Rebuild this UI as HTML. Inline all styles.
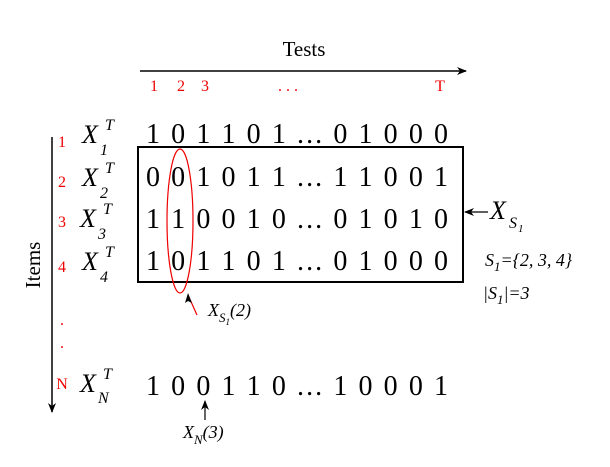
<!DOCTYPE html>
<html><head><meta charset="utf-8"><style>
body{margin:0;background:#fff}
svg{display:block;font-family:"Liberation Serif",serif}
.d{font-size:28px}
.r{fill:#e00;font-size:16px}
.x{font-style:italic}
.s{font-style:italic}
</style></head><body>
<svg width="610" height="467" viewBox="0 0 610 467">
<defs><marker id="ah" markerWidth="10" markerHeight="8" refX="9" refY="4" orient="auto" markerUnits="userSpaceOnUse"><path d="M0,0 L10,4 L0,8 L3,4z" fill="#000"/></marker></defs>
<text x="304" y="56" style="font-size:21px" text-anchor="middle">Tests</text>
<line x1="140" y1="71" x2="466" y2="71" stroke="#000" stroke-width="1.5" marker-end="url(#ah)"/>
<g class="r" text-anchor="middle">
<text x="154" y="91">1</text><text x="181" y="91">2</text><text x="205" y="91">3</text>
<text x="288" y="91">. . .</text><text x="440" y="91">T</text></g>
<text transform="translate(40,265) rotate(-90)" style="font-size:21px" text-anchor="middle">Items</text>
<line x1="52" y1="137" x2="52" y2="412" stroke="#000" stroke-width="1.5" marker-end="url(#ah)"/>
<g class="r" text-anchor="middle">
<text x="62" y="147">1</text><text x="62" y="187">2</text><text x="62" y="227">3</text><text x="62" y="272">4</text>
<text x="62" y="325">.</text><text x="62" y="348">.</text><text x="62" y="389">N</text></g>
<g style="font-size:26px">
<text x="82" y="143" class="x">X</text><text x="105" y="130" class="s" style="font-size:16px">T</text><text x="100" y="155" class="s" style="font-size:16px">1</text>
<text x="82" y="186" class="x">X</text><text x="105" y="173" class="s" style="font-size:16px">T</text><text x="100" y="198" class="s" style="font-size:16px">2</text>
<text x="80" y="227" class="x">X</text><text x="103" y="214" class="s" style="font-size:16px">T</text><text x="98" y="239" class="s" style="font-size:16px">3</text>
<text x="82" y="270" class="x">X</text><text x="105" y="257" class="s" style="font-size:16px">T</text><text x="100" y="282" class="s" style="font-size:16px">4</text>
<text x="80" y="392" class="x">X</text><text x="103" y="379" class="s" style="font-size:16px">T</text><text x="98" y="403" class="s" style="font-size:16px">N</text></g>
<g class="d">
<text x="146" y="143" textLength="302" lengthAdjust="spacing">1 0 1 1 0 1 ... 0 1 0 0 0</text>
<text x="146" y="186" textLength="302" lengthAdjust="spacing">0 0 1 0 1 1 ... 1 1 0 0 1</text>
<text x="146" y="228" textLength="302" lengthAdjust="spacing">1 1 0 0 1 0 ... 0 1 0 1 0</text>
<text x="146" y="270" textLength="302" lengthAdjust="spacing">1 0 1 1 0 1 ... 0 1 0 0 0</text>
<text x="146" y="395" textLength="302" lengthAdjust="spacing">1 0 0 1 1 0 ... 1 0 0 0 1</text></g>
<rect x="138" y="147" width="325" height="135" fill="none" stroke="#000" stroke-width="2"/>
<ellipse cx="180" cy="221" rx="13" ry="72" fill="none" stroke="#e00" stroke-width="1.2"/>
<line x1="488" y1="212" x2="465" y2="212" stroke="#000" stroke-width="1.2" marker-end="url(#ah)"/>
<text x="490" y="219" class="x" style="font-size:26px">X</text><text x="509" y="228" class="s" style="font-size:16px">S</text><text x="518" y="232" class="s" style="font-size:11px">1</text>
<text x="485" y="266" class="s" style="font-size:18px">S<tspan style="font-size:13px" dy="5">1</tspan><tspan dy="-5">={2, 3, 4}</tspan></text>
<text x="483" y="299" class="s" style="font-size:18px">|S<tspan style="font-size:13px" dy="5">1</tspan><tspan dy="-5">|=3</tspan></text>
<line x1="197" y1="315" x2="188" y2="295" stroke="#e00" stroke-width="1.2"/>
<path d="M188,293 L185,303 L188,301 L192,303z" fill="#000"/>
<text x="208" y="316" class="x" style="font-size:18px">X<tspan style="font-size:13px" dy="6">S</tspan><tspan style="font-size:9px" dy="3">1</tspan><tspan style="font-size:18px" dy="-9">(2)</tspan></text>
<line x1="205" y1="420" x2="205" y2="401" stroke="#000" stroke-width="1.2" marker-end="url(#ah)"/>
<text x="183" y="438" class="x" style="font-size:18px">X<tspan style="font-size:13px" dy="6">N</tspan><tspan style="font-size:18px" dy="-6">(3)</tspan></text>
</svg>
</body></html>
